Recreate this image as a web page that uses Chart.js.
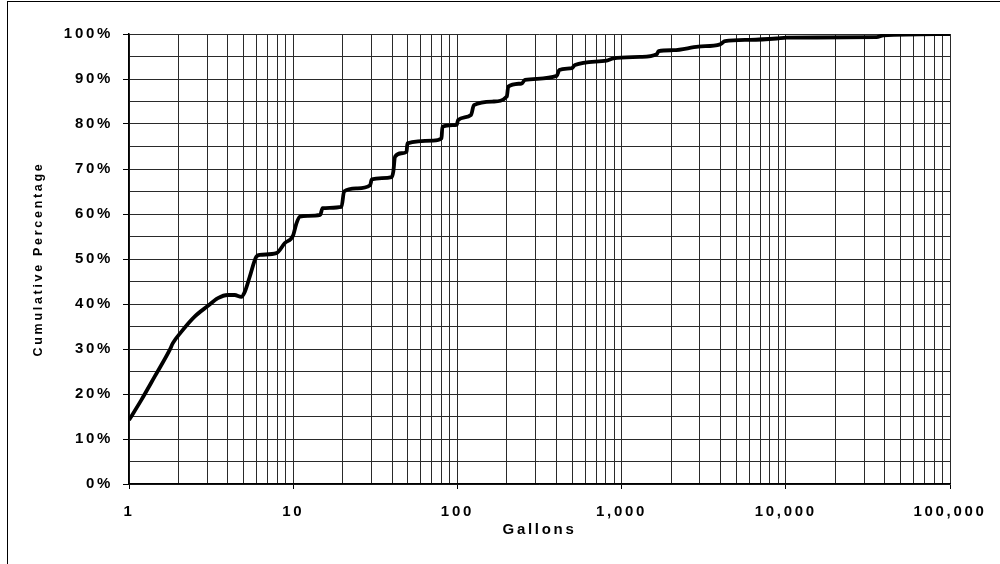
<!DOCTYPE html>
<html>
<head>
<meta charset="utf-8">
<script src="https://cdn.jsdelivr.net/npm/chart.js@4/dist/chart.umd.min.js"></script>
<style>
  html, body { margin: 0; padding: 0; background: #fff; }
  #wrap { position: relative; width: 1000px; height: 564px; }
  #frame { position: absolute; left: 7px; top: 1px; width: 1000px; height: 600px;
           border-left: 1px solid #000; border-top: 1px solid #000; pointer-events: none; }
  canvas { position: absolute; left: 0; top: 0; }
</style>
</head>
<body>
<div id="wrap">
  <canvas id="c" width="1000" height="564"></canvas>
  <div id="frame"></div>
</div>
<script>
// Gallons (x) and cumulative percentage (y)
const gallons = [1, 1.19, 1.43, 1.77, 1.85, 2.08, 2.51, 3.03, 3.48, 4.0, 4.4, 4.83, 5.07, 5.43, 5.96, 6.25,
  7.9, 8.87, 10.0, 10.4, 10.96, 12.3, 14.6, 15.1, 19.7, 20.4, 24.4, 29.4, 30.1, 39.8, 40.7, 41.7, 45.7,
  49.0, 49.6, 71.3, 80, 81, 99, 101, 121, 126, 166, 200, 204, 246, 258, 403, 417, 497, 520, 811, 891,
  1294, 1636, 1680, 2065, 2931, 3981, 4266, 6053, 8790, 10120, 35700, 39300, 100000];
const cumulativePct = [14.2, 18.7, 23.8, 29.8, 31.3, 33.8, 37.2, 39.6, 41.3, 42.0, 42.0, 41.6, 42.7, 46.0, 50.5, 50.9,
  51.3, 53.5, 55.3, 57.6, 59.4, 59.6, 59.8, 61.3, 61.6, 65.0, 65.7, 66.4, 67.7, 68.2, 69.4, 72.7, 73.5,
  73.8, 75.7, 76.3, 76.8, 79.4, 79.8, 80.9, 82.0, 84.2, 85.0, 86.1, 88.3, 89.0, 89.8, 90.7, 92.0, 92.4, 93.1, 94.1, 94.6,
  94.9, 95.5, 96.2, 96.4, 97.2, 97.7, 98.4, 98.7, 99.0, 99.2, 99.3, 99.7, 100];
const xTickValues = [];
for (let e = 0; e <= 5; e++) {
  for (let m = 1; m <= 9; m++) {
    const v = m * Math.pow(10, e);
    if (v <= 100000) xTickValues.push(v);
  }
}
const xTitle = 'Gallons';
const yTitle = 'Cumulative Percentage';

const points = gallons.map((g, i) => ({ x: g, y: cumulativePct[i] }));

const spacingPlugin = {
  id: 'spacing',
  beforeDraw(chart) { chart.ctx.letterSpacing = '2.7px'; },
  afterDraw(chart) { chart.ctx.letterSpacing = '0px'; }
};

const isDecade = v => Math.abs(Math.log10(v) - Math.round(Math.log10(v))) < 1e-9;
const FONT = "'Liberation Sans', Arial, sans-serif";

new Chart(document.getElementById('c'), {
  type: 'line',
  data: {
    datasets: [{
      data: points,
      borderColor: '#000',
      borderWidth: 3.8,
      pointRadius: 0,
      cubicInterpolationMode: 'monotone',
      fill: false
    }]
  },
  options: {
    responsive: false,
    animation: false,
    devicePixelRatio: 1,
    layout: { padding: { left: 0, top: 34, right: 50, bottom: 0 } },
    plugins: { legend: { display: false }, tooltip: { enabled: false } },
    scales: {
      x: {
        type: 'logarithmic',
        min: 1,
        max: 100000,
        afterBuildTicks(scale) { scale.ticks = xTickValues.map(v => ({ value: v })); },
        afterFit(scale) { scale.height = 80; },
        grid: {
          color: '#2a2a2a',
          lineWidth: 1,
          tickLength: 5,
          tickColor: ctx => (ctx.tick && isDecade(ctx.tick.value)) ? '#000' : 'rgba(0,0,0,0)'
        },
        border: { color: '#000', width: 1.5 },
        ticks: {
          autoSkip: false,
          maxRotation: 0,
          padding: 14,
          color: '#000',
          font: { family: FONT, size: 15, weight: 'bold' },
          callback: v => isDecade(v) ? Number(v).toLocaleString('en-US') : ''
        },
        title: {
          display: true,
          text: xTitle,
          color: '#000',
          font: { family: FONT, size: 15, weight: 'bold' },
          padding: { top: 0, bottom: 25 }
        }
      },
      y: {
        min: 0,
        max: 100,
        afterFit(scale) { scale.width = 129; },
        grid: {
          color: '#2a2a2a',
          lineWidth: 1,
          tickLength: 6,
          tickColor: ctx => (ctx.tick && ctx.tick.value % 10 === 0) ? '#000' : 'rgba(0,0,0,0)'
        },
        border: { color: '#000', width: 1.5 },
        ticks: {
          stepSize: 5,
          padding: 10,
          color: '#000',
          font: { family: FONT, size: 15, weight: 'bold' },
          callback: v => (v % 10 === 0) ? v + '%' : ''
        },
        title: {
          display: true,
          text: yTitle,
          color: '#000',
          font: { family: FONT, size: 12.5, weight: 'bold' },
          padding: { top: 31, bottom: 0 }
        }
      }
    }
  },
  plugins: [spacingPlugin]
});
</script>
</body>
</html>
